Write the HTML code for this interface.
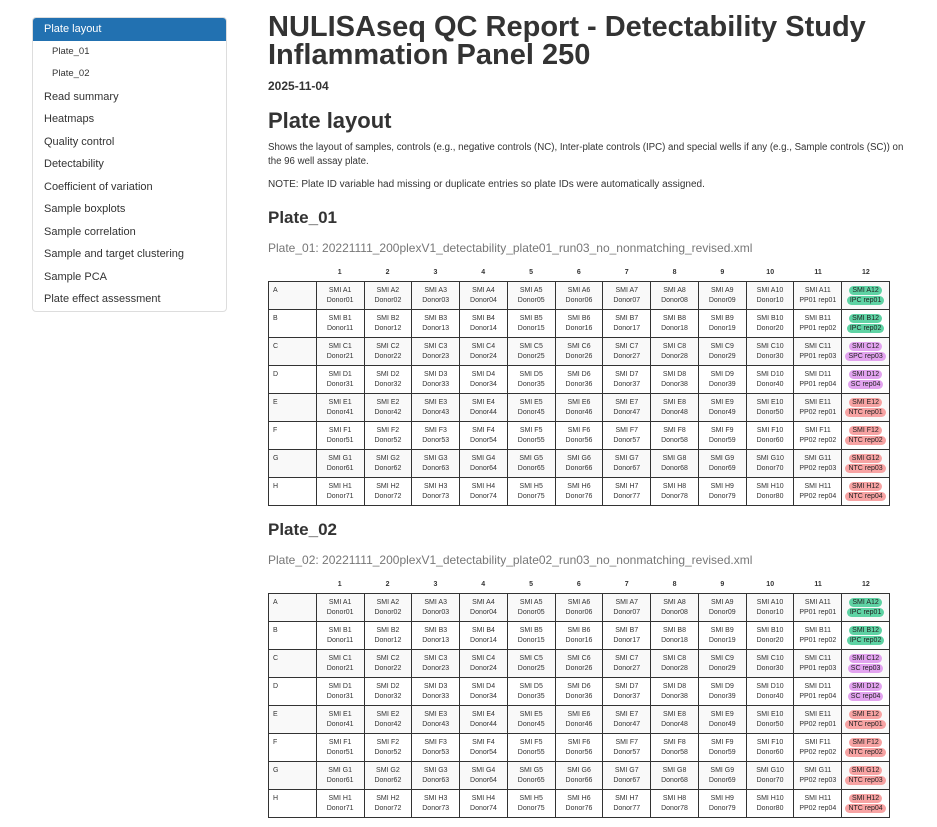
<!DOCTYPE html>
<html><head><meta charset="utf-8"><style>
body{margin:0;width:937px;height:827px;overflow:hidden;background:#fff;font-family:"Liberation Sans",Arial,sans-serif;color:#333;position:relative}
.a{position:absolute}
.nav{left:32px;top:17px;width:193px;border:1px solid #ddd;border-radius:4px;font-size:11px;}
.nav div{height:22.5px;line-height:22.5px;padding-left:11px}
.nav div.s{padding-left:19px;font-size:9.5px}
.nav div.act{background:#2271b1;color:#fff;border-radius:3px 3px 0 0}
h1{margin:0;font-size:29px;line-height:28px;font-weight:bold;color:#333}
table{border-collapse:collapse;table-layout:fixed;width:622px;font-size:7px;}
tr{height:28px}
td{border:1px solid #333;height:26px;text-align:center;line-height:10px;padding:0;color:#333;overflow:hidden}
td.r{text-align:left;padding-left:4px;vertical-align:top;padding-top:4px;height:22px}
tr:nth-child(odd) td{background:#f9f9f9}
.hd{width:622px;font-size:7px;font-weight:bold;display:flex}
.hd span{width:47.83px;text-align:center}
.b{border-radius:5px;padding:0 3px;color:#222;line-height:9px;display:inline-block}
.g{background:#5fd3a4}.p{background:#e2a3ef}.rd{background:#f7a3a3}
</style></head><body>
<div class="a nav">
<div class="act">Plate layout</div><div class="s">Plate_01</div><div class="s">Plate_02</div><div>Read summary</div><div>Heatmaps</div><div>Quality control</div><div>Detectability</div><div>Coefficient of variation</div><div>Sample boxplots</div><div>Sample correlation</div><div>Sample and target clustering</div><div>Sample PCA</div><div>Plate effect assessment</div>
</div>
<div class="a" style="left:268px;top:13px"><h1>NULISAseq QC Report - Detectability Study<br>Inflammation Panel 250</h1></div>
<div class="a" style="left:268px;top:79px;font-size:12px;font-weight:bold">2025-11-04</div>
<div class="a" style="left:268px;top:108px;font-size:22px;font-weight:bold">Plate layout</div>
<div class="a" style="left:268px;top:141px;width:640px;font-size:9.7px;line-height:14px">Shows the layout of samples, controls (e.g., negative controls (NC), Inter-plate controls (IPC) and special wells if any (e.g., Sample controls (SC)) on the 96 well assay plate.</div>
<div class="a" style="left:268px;top:179px;font-size:10px">NOTE: Plate ID variable had missing or duplicate entries so plate IDs were automatically assigned.</div>

<div class="a" style="left:268px;top:208px;font-size:17px;font-weight:bold">Plate_01</div>
<div class="a" style="left:268px;top:241px;font-size:12px;color:#777">Plate_01: 20221111_200plexV1_detectability_plate01_run03_no_nonmatching_revised.xml</div>
<div class="a hd" style="left:268px;top:269px"><span></span><span>1</span><span>2</span><span>3</span><span>4</span><span>5</span><span>6</span><span>7</span><span>8</span><span>9</span><span>10</span><span>11</span><span>12</span></div>
<table class="a" style="left:268px;top:281px">
<tr><td class="r">A</td><td>SMI A1<br>Donor01</td><td>SMI A2<br>Donor02</td><td>SMI A3<br>Donor03</td><td>SMI A4<br>Donor04</td><td>SMI A5<br>Donor05</td><td>SMI A6<br>Donor06</td><td>SMI A7<br>Donor07</td><td>SMI A8<br>Donor08</td><td>SMI A9<br>Donor09</td><td>SMI A10<br>Donor10</td><td>SMI A11<br>PP01 rep01</td><td><span class="b g">SMI A12</span><br><span class="b g">IPC rep01</span></td></tr>
<tr><td class="r">B</td><td>SMI B1<br>Donor11</td><td>SMI B2<br>Donor12</td><td>SMI B3<br>Donor13</td><td>SMI B4<br>Donor14</td><td>SMI B5<br>Donor15</td><td>SMI B6<br>Donor16</td><td>SMI B7<br>Donor17</td><td>SMI B8<br>Donor18</td><td>SMI B9<br>Donor19</td><td>SMI B10<br>Donor20</td><td>SMI B11<br>PP01 rep02</td><td><span class="b g">SMI B12</span><br><span class="b g">IPC rep02</span></td></tr>
<tr><td class="r">C</td><td>SMI C1<br>Donor21</td><td>SMI C2<br>Donor22</td><td>SMI C3<br>Donor23</td><td>SMI C4<br>Donor24</td><td>SMI C5<br>Donor25</td><td>SMI C6<br>Donor26</td><td>SMI C7<br>Donor27</td><td>SMI C8<br>Donor28</td><td>SMI C9<br>Donor29</td><td>SMI C10<br>Donor30</td><td>SMI C11<br>PP01 rep03</td><td><span class="b p">SMI C12</span><br><span class="b p">SPC rep03</span></td></tr>
<tr><td class="r">D</td><td>SMI D1<br>Donor31</td><td>SMI D2<br>Donor32</td><td>SMI D3<br>Donor33</td><td>SMI D4<br>Donor34</td><td>SMI D5<br>Donor35</td><td>SMI D6<br>Donor36</td><td>SMI D7<br>Donor37</td><td>SMI D8<br>Donor38</td><td>SMI D9<br>Donor39</td><td>SMI D10<br>Donor40</td><td>SMI D11<br>PP01 rep04</td><td><span class="b p">SMI D12</span><br><span class="b p">SC rep04</span></td></tr>
<tr><td class="r">E</td><td>SMI E1<br>Donor41</td><td>SMI E2<br>Donor42</td><td>SMI E3<br>Donor43</td><td>SMI E4<br>Donor44</td><td>SMI E5<br>Donor45</td><td>SMI E6<br>Donor46</td><td>SMI E7<br>Donor47</td><td>SMI E8<br>Donor48</td><td>SMI E9<br>Donor49</td><td>SMI E10<br>Donor50</td><td>SMI E11<br>PP02 rep01</td><td><span class="b rd">SMI E12</span><br><span class="b rd">NTC rep01</span></td></tr>
<tr><td class="r">F</td><td>SMI F1<br>Donor51</td><td>SMI F2<br>Donor52</td><td>SMI F3<br>Donor53</td><td>SMI F4<br>Donor54</td><td>SMI F5<br>Donor55</td><td>SMI F6<br>Donor56</td><td>SMI F7<br>Donor57</td><td>SMI F8<br>Donor58</td><td>SMI F9<br>Donor59</td><td>SMI F10<br>Donor60</td><td>SMI F11<br>PP02 rep02</td><td><span class="b rd">SMI F12</span><br><span class="b rd">NTC rep02</span></td></tr>
<tr><td class="r">G</td><td>SMI G1<br>Donor61</td><td>SMI G2<br>Donor62</td><td>SMI G3<br>Donor63</td><td>SMI G4<br>Donor64</td><td>SMI G5<br>Donor65</td><td>SMI G6<br>Donor66</td><td>SMI G7<br>Donor67</td><td>SMI G8<br>Donor68</td><td>SMI G9<br>Donor69</td><td>SMI G10<br>Donor70</td><td>SMI G11<br>PP02 rep03</td><td><span class="b rd">SMI G12</span><br><span class="b rd">NTC rep03</span></td></tr>
<tr><td class="r">H</td><td>SMI H1<br>Donor71</td><td>SMI H2<br>Donor72</td><td>SMI H3<br>Donor73</td><td>SMI H4<br>Donor74</td><td>SMI H5<br>Donor75</td><td>SMI H6<br>Donor76</td><td>SMI H7<br>Donor77</td><td>SMI H8<br>Donor78</td><td>SMI H9<br>Donor79</td><td>SMI H10<br>Donor80</td><td>SMI H11<br>PP02 rep04</td><td><span class="b rd">SMI H12</span><br><span class="b rd">NTC rep04</span></td></tr>
</table>

<div class="a" style="left:268px;top:520px;font-size:17px;font-weight:bold">Plate_02</div>
<div class="a" style="left:268px;top:553px;font-size:12px;color:#777">Plate_02: 20221111_200plexV1_detectability_plate02_run03_no_nonmatching_revised.xml</div>
<div class="a hd" style="left:268px;top:581px"><span></span><span>1</span><span>2</span><span>3</span><span>4</span><span>5</span><span>6</span><span>7</span><span>8</span><span>9</span><span>10</span><span>11</span><span>12</span></div>
<table class="a" style="left:268px;top:593px">
<tr><td class="r">A</td><td>SMI A1<br>Donor01</td><td>SMI A2<br>Donor02</td><td>SMI A3<br>Donor03</td><td>SMI A4<br>Donor04</td><td>SMI A5<br>Donor05</td><td>SMI A6<br>Donor06</td><td>SMI A7<br>Donor07</td><td>SMI A8<br>Donor08</td><td>SMI A9<br>Donor09</td><td>SMI A10<br>Donor10</td><td>SMI A11<br>PP01 rep01</td><td><span class="b g">SMI A12</span><br><span class="b g">IPC rep01</span></td></tr>
<tr><td class="r">B</td><td>SMI B1<br>Donor11</td><td>SMI B2<br>Donor12</td><td>SMI B3<br>Donor13</td><td>SMI B4<br>Donor14</td><td>SMI B5<br>Donor15</td><td>SMI B6<br>Donor16</td><td>SMI B7<br>Donor17</td><td>SMI B8<br>Donor18</td><td>SMI B9<br>Donor19</td><td>SMI B10<br>Donor20</td><td>SMI B11<br>PP01 rep02</td><td><span class="b g">SMI B12</span><br><span class="b g">IPC rep02</span></td></tr>
<tr><td class="r">C</td><td>SMI C1<br>Donor21</td><td>SMI C2<br>Donor22</td><td>SMI C3<br>Donor23</td><td>SMI C4<br>Donor24</td><td>SMI C5<br>Donor25</td><td>SMI C6<br>Donor26</td><td>SMI C7<br>Donor27</td><td>SMI C8<br>Donor28</td><td>SMI C9<br>Donor29</td><td>SMI C10<br>Donor30</td><td>SMI C11<br>PP01 rep03</td><td><span class="b p">SMI C12</span><br><span class="b p">SC rep03</span></td></tr>
<tr><td class="r">D</td><td>SMI D1<br>Donor31</td><td>SMI D2<br>Donor32</td><td>SMI D3<br>Donor33</td><td>SMI D4<br>Donor34</td><td>SMI D5<br>Donor35</td><td>SMI D6<br>Donor36</td><td>SMI D7<br>Donor37</td><td>SMI D8<br>Donor38</td><td>SMI D9<br>Donor39</td><td>SMI D10<br>Donor40</td><td>SMI D11<br>PP01 rep04</td><td><span class="b p">SMI D12</span><br><span class="b p">SC rep04</span></td></tr>
<tr><td class="r">E</td><td>SMI E1<br>Donor41</td><td>SMI E2<br>Donor42</td><td>SMI E3<br>Donor43</td><td>SMI E4<br>Donor44</td><td>SMI E5<br>Donor45</td><td>SMI E6<br>Donor46</td><td>SMI E7<br>Donor47</td><td>SMI E8<br>Donor48</td><td>SMI E9<br>Donor49</td><td>SMI E10<br>Donor50</td><td>SMI E11<br>PP02 rep01</td><td><span class="b rd">SMI E12</span><br><span class="b rd">NTC rep01</span></td></tr>
<tr><td class="r">F</td><td>SMI F1<br>Donor51</td><td>SMI F2<br>Donor52</td><td>SMI F3<br>Donor53</td><td>SMI F4<br>Donor54</td><td>SMI F5<br>Donor55</td><td>SMI F6<br>Donor56</td><td>SMI F7<br>Donor57</td><td>SMI F8<br>Donor58</td><td>SMI F9<br>Donor59</td><td>SMI F10<br>Donor60</td><td>SMI F11<br>PP02 rep02</td><td><span class="b rd">SMI F12</span><br><span class="b rd">NTC rep02</span></td></tr>
<tr><td class="r">G</td><td>SMI G1<br>Donor61</td><td>SMI G2<br>Donor62</td><td>SMI G3<br>Donor63</td><td>SMI G4<br>Donor64</td><td>SMI G5<br>Donor65</td><td>SMI G6<br>Donor66</td><td>SMI G7<br>Donor67</td><td>SMI G8<br>Donor68</td><td>SMI G9<br>Donor69</td><td>SMI G10<br>Donor70</td><td>SMI G11<br>PP02 rep03</td><td><span class="b rd">SMI G12</span><br><span class="b rd">NTC rep03</span></td></tr>
<tr><td class="r">H</td><td>SMI H1<br>Donor71</td><td>SMI H2<br>Donor72</td><td>SMI H3<br>Donor73</td><td>SMI H4<br>Donor74</td><td>SMI H5<br>Donor75</td><td>SMI H6<br>Donor76</td><td>SMI H7<br>Donor77</td><td>SMI H8<br>Donor78</td><td>SMI H9<br>Donor79</td><td>SMI H10<br>Donor80</td><td>SMI H11<br>PP02 rep04</td><td><span class="b rd">SMI H12</span><br><span class="b rd">NTC rep04</span></td></tr>
</table>
</body></html>
